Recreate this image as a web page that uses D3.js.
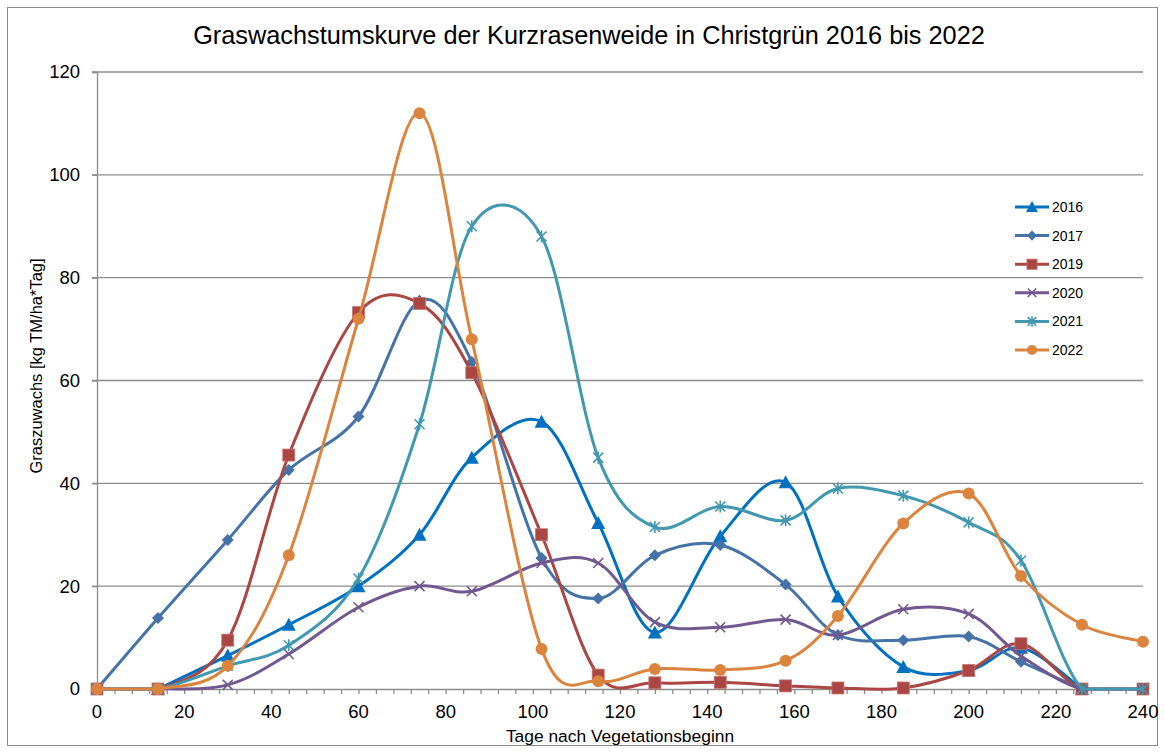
<!DOCTYPE html>
<html>
<head>
<meta charset="utf-8">
<script src="https://cdn.jsdelivr.net/npm/d3@7"></script>
<style>
  body { margin: 0; background: #fff; }
  svg text { font-family: "Liberation Sans", Arial, sans-serif; fill: #000; }
</style>
</head>
<body>
<div id="chart"></div>
<script>
// days after start of vegetation period
const days = [0, 14, 30, 44, 60, 74, 86, 102, 115, 128, 143, 158, 170, 185, 200, 212, 226, 240];

const years = ["2016", "2017", "2019", "2020", "2021", "2022"];

// growth [kg TM/ha*Tag], null = no value
const v2016 = [null, 0, 6.5, 12.5, 20, 30, 45, 52, 32.3, 11, 29.7, 40.2, 18, 4.3, 3.6, 8, 0, null];
const v2017 = [0, 13.8, 29, 42.6, 53, 75.5, 63.6, 25.5, 17.6, 26, 28, 20.3, 10.5, 9.5, 10.2, 5.3, 0, null];
const v2019 = [0, 0, 9.5, 45.5, 73.2, 75, 61.5, 30, 2.7, 1.2, 1.3, 0.6, 0.2, 0.2, 3.6, 8.8, 0, 0];
const v2020 = [0, 0, 0.8, 6.8, 15.9, 20, 19, 24.5, 24.5, 13, 12, 13.5, 10.5, 15.5, 14.6, 6.4, 0, 0];
const v2021 = [0, 0, 4.5, 8.5, 21.5, 51.5, 90, 88, 45, 31.5, 35.5, 32.8, 39, 37.6, 32.4, 25, 0, 0];
const v2022 = [0, 0, 4.5, 26, 72, 112, 68, 7.8, 1.5, 3.9, 3.7, 5.5, 14.2, 32.2, 38, 22, 12.5, 9.2];

const values = [v2016, v2017, v2019, v2020, v2021, v2022];
const colors = ["#0070C0", "#4573A8", "#AA4643", "#71588F", "#4198AF", "#DB843D"];
const markers = ["triangle", "diamond", "square", "x", "star", "circle"];

const xTicks = d3.range(0, 241, 20);
const yTicks = d3.range(0, 121, 20);

const width = 1165, height = 753;
const margin = { top: 72, right: 22, bottom: 64, left: 97 };

const svg = d3.select("#chart").append("svg")
  .attr("width", width)
  .attr("height", height);

// outer frame
svg.append("rect")
  .attr("x", 7.5).attr("y", 7.5)
  .attr("width", 1150).attr("height", 738)
  .attr("fill", "none")
  .attr("stroke", "#8a8a8a")
  .attr("stroke-width", 1);

const x = d3.scaleLinear().domain([0, 240]).range([margin.left, width - margin.right]);
const y = d3.scaleLinear().domain([0, 120]).range([height - margin.bottom, margin.top]);

// grid lines
svg.append("g")
  .selectAll("line")
  .data(yTicks.filter(d => d > 0))
  .join("line")
  .attr("x1", x(0) - 5).attr("x2", x(240))
  .attr("y1", d => y(d)).attr("y2", d => y(d))
  .attr("stroke", "#8c8c8c")
  .attr("stroke-width", 1.3);

// y axis
const yAxis = svg.append("g")
  .attr("transform", `translate(${x(0)},0)`)
  .call(d3.axisLeft(y).tickValues(yTicks).tickSize(5).tickPadding(12));
yAxis.select(".domain").attr("stroke", "#8c8c8c").attr("stroke-width", 1.3);
yAxis.selectAll(".tick line").attr("stroke", "#8c8c8c").attr("stroke-width", 1.3);
yAxis.selectAll("text").style("font-size", "18.5px");

// x axis: minor ticks every 4 days, labels every 20
const xAxis = svg.append("g")
  .attr("transform", `translate(0,${y(0)})`)
  .call(d3.axisBottom(x).tickValues(d3.range(0, 241, 4)).tickSize(5).tickFormat(""));
xAxis.select(".domain").attr("stroke", "#8c8c8c").attr("stroke-width", 1.3);
xAxis.selectAll(".tick line").attr("stroke", "#8c8c8c").attr("stroke-width", 1.3);

svg.append("g")
  .selectAll("text")
  .data(xTicks)
  .join("text")
  .attr("x", d => x(d))
  .attr("y", 718)
  .attr("text-anchor", "middle")
  .style("font-size", "18.5px")
  .text(d => d);

// title and axis titles
svg.append("text")
  .attr("x", 589).attr("y", 44)
  .attr("text-anchor", "middle")
  .style("font-size", "25.3px")
  .text("Graswachstumskurve der Kurzrasenweide in Christgrün 2016 bis 2022");

svg.append("text")
  .attr("x", (x(0) + x(240)) / 2).attr("y", 742)
  .attr("text-anchor", "middle")
  .style("font-size", "17.4px")
  .text("Tage nach Vegetationsbeginn");

svg.append("text")
  .attr("transform", "translate(42,366) rotate(-90)")
  .attr("text-anchor", "middle")
  .style("font-size", "16.5px")
  .text("Graszuwachs [kg TM/ha*Tag]");

// smoothing like the spreadsheet: catmull-rom bezier, runs along the zero line stay straight
const y0px = y(0);
function smoothCurve(context) {
  let pts = [];
  return {
    areaStart() {}, areaEnd() {},
    lineStart() { pts = []; },
    point(px, py) { pts.push([+px, +py]); },
    lineEnd() {
      const n = pts.length;
      if (!n) return;
      context.moveTo(pts[0][0], pts[0][1]);
      for (let i = 0; i < n - 1; i++) {
        const p0 = pts[Math.max(i - 1, 0)], p1 = pts[i],
              p2 = pts[i + 1], p3 = pts[Math.min(i + 2, n - 1)];
        if (p1[1] === y0px && p2[1] === y0px) {
          context.lineTo(p2[0], p2[1]);
          continue;
        }
        context.bezierCurveTo(
          p1[0] + (p2[0] - p0[0]) / 6, p1[1] + (p2[1] - p0[1]) / 6,
          p2[0] - (p3[0] - p1[0]) / 6, p2[1] - (p3[1] - p1[1]) / 6,
          p2[0], p2[1]);
      }
    }
  };
}

const line = d3.line()
  .defined(d => d[1] !== null)
  .x(d => x(d[0]))
  .y(d => y(d[1]))
  .curve(smoothCurve);

function drawMarker(g, type, color, cx, cy, s) {
  s = s || 1;
  if (type === "triangle") {
    g.append("path")
      .attr("d", `M${cx},${cy - 7 * s} L${cx + 7 * s},${cy + 6 * s} L${cx - 7 * s},${cy + 6 * s} Z`)
      .attr("fill", color);
  } else if (type === "diamond") {
    g.append("path")
      .attr("d", `M${cx},${cy - 6 * s} L${cx + 6 * s},${cy} L${cx},${cy + 6 * s} L${cx - 6 * s},${cy} Z`)
      .attr("fill", color);
  } else if (type === "square") {
    g.append("rect")
      .attr("x", cx - 6 * s).attr("y", cy - 6 * s)
      .attr("width", 12 * s).attr("height", 12 * s)
      .attr("fill", color)
      .attr("stroke", "#c97371").attr("stroke-width", 0.8);
  } else if (type === "x") {
    const r = 5 * s;
    g.append("path")
      .attr("d", `M${cx - r},${cy - r} L${cx + r},${cy + r} M${cx - r},${cy + r} L${cx + r},${cy - r}`)
      .attr("stroke", color).attr("stroke-width", 1.6);
  } else if (type === "star") {
    const r = 5 * s;
    g.append("path")
      .attr("d", `M${cx - r},${cy - r} L${cx + r},${cy + r} M${cx - r},${cy + r} L${cx + r},${cy - r} M${cx},${cy - r - 1} L${cx},${cy + r + 1}`)
      .attr("stroke", color).attr("stroke-width", 1.6);
  } else {
    g.append("circle")
      .attr("cx", cx).attr("cy", cy).attr("r", 6 * s)
      .attr("fill", color);
  }
}

years.forEach((yr, i) => {
  const pts = days.map((d, j) => [d, values[i][j]]);
  const g = svg.append("g");
  g.append("path")
    .datum(pts)
    .attr("d", line)
    .attr("fill", "none")
    .attr("stroke", colors[i])
    .attr("stroke-width", 3);
  pts.filter(p => p[1] !== null).forEach(p => {
    drawMarker(g, markers[i], colors[i], x(p[0]), y(p[1]));
  });
});

// legend
const legend = svg.append("g");
years.forEach((yr, i) => {
  const ly = 207 + i * 28.6;
  legend.append("line")
    .attr("x1", 1015).attr("x2", 1049)
    .attr("y1", ly).attr("y2", ly)
    .attr("stroke", colors[i])
    .attr("stroke-width", 3);
  drawMarker(legend, markers[i], colors[i], 1032, ly, 0.85);
  legend.append("text")
    .attr("x", 1052).attr("y", ly + 5)
    .style("font-size", "14px")
    .text(yr);
});
</script>
</body>
</html>
